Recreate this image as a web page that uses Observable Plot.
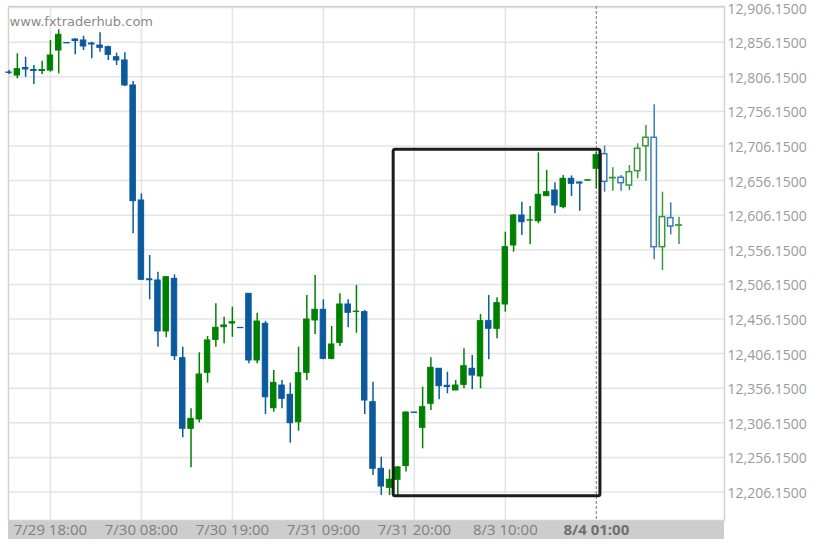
<!DOCTYPE html>
<html>
<head>
<meta charset="utf-8">
<script src="https://cdn.jsdelivr.net/npm/d3@7"></script>
<script src="https://cdn.jsdelivr.net/npm/@observablehq/plot@0.6"></script>
<style>
  html, body { margin: 0; padding: 0; background: #fff; }
  #wrap { position: relative; width: 822px; height: 548px; }
  #band { position: absolute; left: 8px; top: 520px; width: 716px; height: 19px; background: #cdcdcd; }
  #chart { position: absolute; left: 0; top: 0; }
  #chart svg { background: transparent !important; }
</style>
</head>
<body>
<div id="wrap"><div id="band"></div><div id="chart"></div></div>
<script>
// OHLC values, one entry per candle (index 0..81)
const openV = [12812.3,12808.0,12818.8,12816.0,12814.5,12815.2,12844.1,12855.0,12860.0,12858.6,
  12854.2,12851.3,12848.9,12834.4,12829.7,12793.6,12627.4,12513.5,12511.8,12438.1,
  12514.2,12399.5,12297.5,12310.9,12378.4,12426.0,12444.3,12449.6,12443.3,12492.5,
  12396.2,12449.2,12327.2,12360.0,12346.6,12307.0,12378.4,12454.0,12469.4,12398.6,
  12421.7,12477.1,12466.3,12466.0,12335.9,12239.7,12212.2,12223.8,12243.7,12321.0,
  12298.9,12333.6,12384.2,12359.6,12352.8,12361.0,12384.2,12373.1,12453.0,12442.0,
  12477.1,12562.4,12605.7,12598.4,12597.4,12633.6,12641.8,12617.7,12658.7,12653.4,
  12656.0,12673.2,12694.3,12659.3,12660.2,12649.0,12669.7,12705.8,12718.0,12559.9,
  12601.9,12591.0];
const highV = [12815.2,12839.4,12834.4,12822.4,12828.7,12858.6,12874.0,12855.5,12861.0,12864.8,
  12856.1,12869.7,12850.3,12840.2,12840.8,12799.3,12637.0,12547.9,12523.8,12517.5,
  12520.0,12415.4,12326.4,12407.3,12430.8,12478.1,12458.7,12473.2,12443.6,12493.0,
  12464.5,12452.5,12381.7,12367.3,12363.4,12415.4,12490.1,12519.0,12483.9,12445.3,
  12492.5,12483.9,12504.5,12468.4,12364.8,12256.4,12238.3,12243.0,12321.7,12321.2,
  12357.6,12400.1,12384.6,12379.3,12367.3,12413.1,12403.4,12462.6,12490.1,12486.8,
  12581.6,12607.1,12624.9,12618.7,12696.3,12670.7,12653.0,12663.5,12662.9,12653.8,
  12656.6,12697.2,12706.1,12674.6,12663.5,12677.9,12709.3,12735.7,12765.6,12639.4,
  12624.0,12603.3];
const lowV = [12809.4,12803.2,12805.5,12795.0,12809.4,12812.8,12810.4,12854.0,12837.9,12844.1,
  12832.1,12841.7,12829.7,12822.4,12792.1,12579.2,12511.8,12483.9,12415.4,12429.0,
  12396.2,12284.5,12241.1,12306.1,12363.4,12415.4,12420.3,12429.8,12442.6,12391.4,
  12391.4,12318.1,12321.5,12326.4,12276.7,12294.0,12367.3,12433.7,12397.2,12397.2,
  12416.4,12443.4,12435.6,12318.1,12230.0,12201.1,12201.1,12198.9,12235.0,12320.0,
  12268.6,12323.9,12339.4,12348.1,12352.8,12355.3,12353.8,12355.3,12397.2,12427.5,
  12466.0,12552.7,12576.8,12563.4,12593.7,12633.1,12608.1,12615.4,12633.1,12611.9,
  12656.0,12644.3,12639.4,12640.8,12640.8,12641.8,12658.7,12655.3,12541.7,12526.2,
  12577.7,12563.7];
const closeV = [12811.8,12817.1,12816.7,12814.5,12816.0,12836.9,12866.8,12854.5,12857.8,12849.9,
  12852.8,12848.0,12837.9,12829.7,12793.6,12626.4,12512.8,12512.1,12438.1,12516.5,
  12402.4,12297.5,12311.9,12375.9,12425.1,12443.4,12446.8,12451.5,12442.9,12396.2,
  12452.5,12343.1,12363.9,12340.8,12305.6,12377.8,12455.4,12469.4,12398.6,12419.3,
  12477.1,12465.1,12466.8,12338.4,12239.7,12214.1,12223.8,12241.6,12321.0,12320.4,
  12328.7,12385.6,12359.0,12357.9,12360.0,12387.9,12374.5,12453.0,12442.0,12479.0,
  12559.9,12605.7,12596.0,12598.8,12635.6,12639.4,12620.1,12658.7,12651.5,12651.9,
  12656.6,12692.8,12654.4,12659.9,12652.4,12668.3,12702.1,12718.0,12559.9,12603.3,
  12589.8,12591.4];

// Candles from this index on are drawn hollow (after the marker line)
const hollowFrom = 72;
const markerIndex = 71;

// x-axis tick labels (candle index -> label)
const xTickIdx = [5, 16, 27, 38, 49, 60, 71];
const xTickLabels = ["7/29 18:00","7/30 08:00","7/30 19:00","7/31 09:00","7/31 20:00","8/3 10:00","8/4 01:00"];

// y-axis tick values
const yTicks = d3.range(15).map(k => 12206.15 + 50 * k);

// pattern rectangle (index span, price span)
const boxIdx = [46.5, 71.5];
const boxPrice = [12200.1, 12700.6];

const candles = openV.map((o, i) => ({
  i, open: o, high: highV[i], low: lowV[i], close: closeV[i],
  up: closeV[i] >= o, hollow: i >= hollowFrom
}));
const solid = candles.filter(d => !d.hollow);
const hollow = candles.filter(d => d.hollow);

const GREEN = "#008000", BLUE = "#0b5a9e";
const GREEN_L = "#3a9a3a", BLUE_L = "#3b7bbf";
const col = d => d.hollow ? (d.up ? GREEN_L : BLUE_L) : (d.up ? GREEN : BLUE);

const labelOf = new Map(xTickIdx.map((t, k) => [t, xTickLabels[k]]));

const chart = Plot.plot({
  width: 822,
  height: 548,
  marginLeft: 8,
  marginRight: 98,
  marginTop: 6,
  marginBottom: 28,
  x: { type: "linear", domain: [-0.07, 86.5], axis: null },
  y: { domain: [12164.97, 12907.7], axis: null },
  style: { fontFamily: "'Open Sans', sans-serif", background: "transparent" },
  marks: [
    Plot.gridY(yTicks, { stroke: "#e4e4e4", strokeOpacity: 1, strokeWidth: 1.5 }),
    Plot.gridX(xTickIdx.filter(t => t !== markerIndex), { stroke: "#e4e4e4", strokeOpacity: 1, strokeWidth: 1.5 }),
    Plot.frame({ stroke: "#d2d2d2", strokeWidth: 1.5 }),
    Plot.ruleX([markerIndex], { stroke: "#777", strokeWidth: 1, strokeDasharray: "3,2" }),
    Plot.ruleX(candles, { x: "i", y1: "low", y2: "high", stroke: col, strokeWidth: 1.5 }),
    Plot.rect(solid, {
      x1: d => d.i - 0.33, x2: d => d.i + 0.33,
      y1: d => Math.min(d.open, d.close), y2: d => Math.max(d.open, d.close),
      fill: col, stroke: col, strokeWidth: 1
    }),
    Plot.rect(hollow, {
      x1: d => d.i - 0.33, x2: d => d.i + 0.33,
      y1: d => Math.min(d.open, d.close), y2: d => Math.max(d.open, d.close),
      fill: "white", stroke: col, strokeWidth: 1.5
    }),
    Plot.rect([{ x1: boxIdx[0], x2: boxIdx[1], y1: boxPrice[0], y2: boxPrice[1] }], {
      x1: "x1", x2: "x2", y1: "y1", y2: "y2",
      fill: "none", stroke: "#1c1c1c", strokeWidth: 3, rx: 2
    }),
    Plot.axisY(yTicks, {
      anchor: "right", tickSize: 0, tickPadding: 3, dy: 1.5,
      tickFormat: d3.format(",.4f"), fontSize: 14, fill: "#9a9a9a"
    }),
    Plot.axisX(xTickIdx.filter(t => t !== markerIndex), {
      anchor: "bottom", tickSize: 0, tickPadding: 4,
      tickFormat: d => labelOf.get(d), fontSize: 15, fill: "#808080"
    }),
    Plot.axisX([markerIndex], {
      anchor: "bottom", tickSize: 0, tickPadding: 4,
      tickFormat: d => labelOf.get(d), fontSize: 15, fill: "#707070", fontWeight: "bold"
    }),
    Plot.text(["www.fxtraderhub.com"], {
      frameAnchor: "top-left", dx: 1, dy: 10, fontSize: 13,
      fill: "#8a8a8a", fontFamily: "DejaVu Sans", textAnchor: "start"
    })
  ]
});
document.getElementById("chart").appendChild(chart);
</script>
</body>
</html>
